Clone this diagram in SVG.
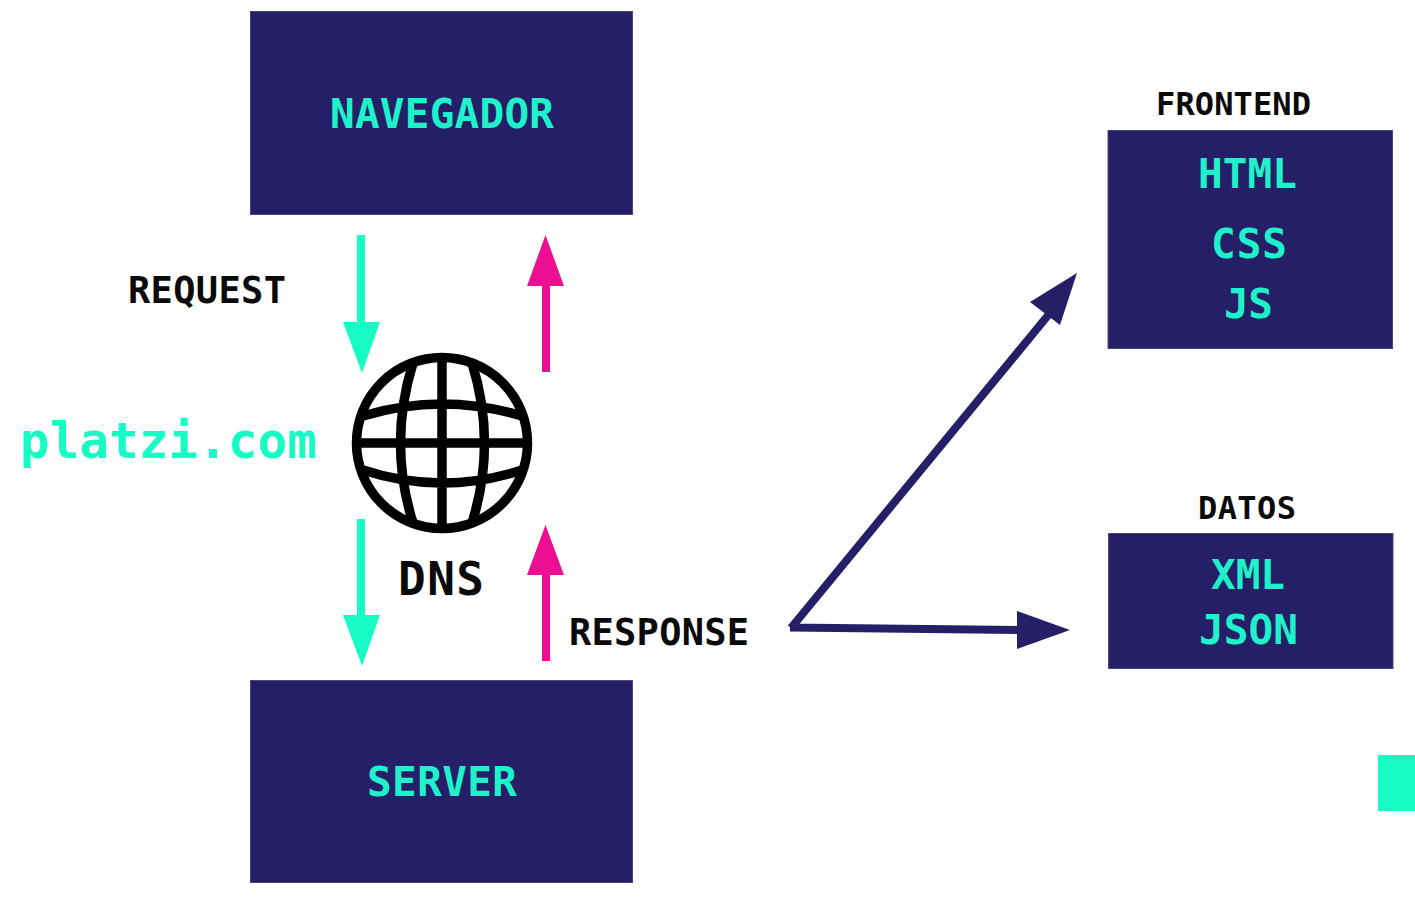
<svg xmlns="http://www.w3.org/2000/svg" width="1415" height="911" viewBox="0 0 1415 911">
<style>
.box{fill:#241f67;stroke:#4a4680;stroke-width:1}
.t{font-family:"DejaVu Sans Mono","Liberation Mono",monospace;font-weight:700}
.in{fill:#1ff2cb;font-size:41px}
.lb{fill:#0a0a0a;font-size:37px}
.sm{font-size:32px}
.teal{fill:#17fcc5}
.pink{fill:#ec0f93}
.navy{fill:#241f67}
.ns{fill:none;stroke:#241f67;stroke-width:8}
.g{fill:none;stroke:#000;stroke-width:9.500}
</style>
<rect width="1415" height="911" fill="#fff"/>
<g id="navegador"><rect class="box" x="250.500" y="11.500" width="382" height="203"/><text class="t in" x="330" y="128" textLength="224" lengthAdjust="spacing">NAVEGADOR</text></g>
<g id="server"><rect class="box" x="250.500" y="680.500" width="382" height="202"/><text class="t in" x="367" y="796" textLength="150" lengthAdjust="spacing">SERVER</text></g>
<g id="frontend"><text class="t lb sm" x="1156" y="115" textLength="155" lengthAdjust="spacing">FRONTEND</text><rect class="box" x="1108" y="130.500" width="284.500" height="218"/><text class="t in" x="1198" y="188" textLength="99" lengthAdjust="spacing">HTML</text><text class="t in" x="1211" y="258" textLength="76" lengthAdjust="spacing">CSS</text><text class="t in" x="1224" y="318" textLength="49" lengthAdjust="spacing">JS</text></g>
<g id="datos"><text class="t lb sm" x="1198" y="519" textLength="98" lengthAdjust="spacing">DATOS</text><rect class="box" x="1108.500" y="533.500" width="284.500" height="135"/><text class="t in" x="1211" y="589" textLength="74" lengthAdjust="spacing">XML</text><text class="t in" x="1199" y="644" textLength="99" lengthAdjust="spacing">JSON</text></g>
<g id="dns"><circle class="g" cx="442" cy="443" r="85.500"/><path class="g" d="M442 358V528M357 443H527M413 363Q388 443 413 523M472 363Q497 443 472 523M363 416Q442 392 522 416M363 470Q442 496 522 470"/><text class="t" style="font-size:46px" fill="#0a0a0a" x="398" y="595" textLength="86" lengthAdjust="spacing">DNS</text></g>
<g id="platzi"><text class="t teal" font-size="49" x="20" y="458" textLength="297" lengthAdjust="spacing">platzi.com</text></g>
<g id="labels"><text class="t lb" x="128" y="303" textLength="158" lengthAdjust="spacing">REQUEST</text><text class="t lb" x="569" y="645" textLength="180" lengthAdjust="spacing">RESPONSE</text></g>
<g id="connectors">
<polygon class="teal" points="357,235 365,235 365,322 380,322 362,373 343,322 357,322"/>
<polygon class="teal" points="357,519 365,519 365,615 380,615 362,666 343,615 357,615"/>
<polygon class="pink" points="542,372 550,372 550,286 564,286 545.500,235 527,286 542,286"/>
<polygon class="pink" points="542,661 550,661 550,575 564,575 545.500,525 527,575 542,575"/>
<path class="ns" d="M791 628L1050 313M790 627.500L1020 630"/>
<polygon class="navy" points="1077,273 1030,302 1060,325"/>
<polygon class="navy" points="1017,611 1070,630 1017,649"/>
</g>
<rect id="tab" class="teal" x="1378" y="755" width="37" height="56"/>
</svg>
